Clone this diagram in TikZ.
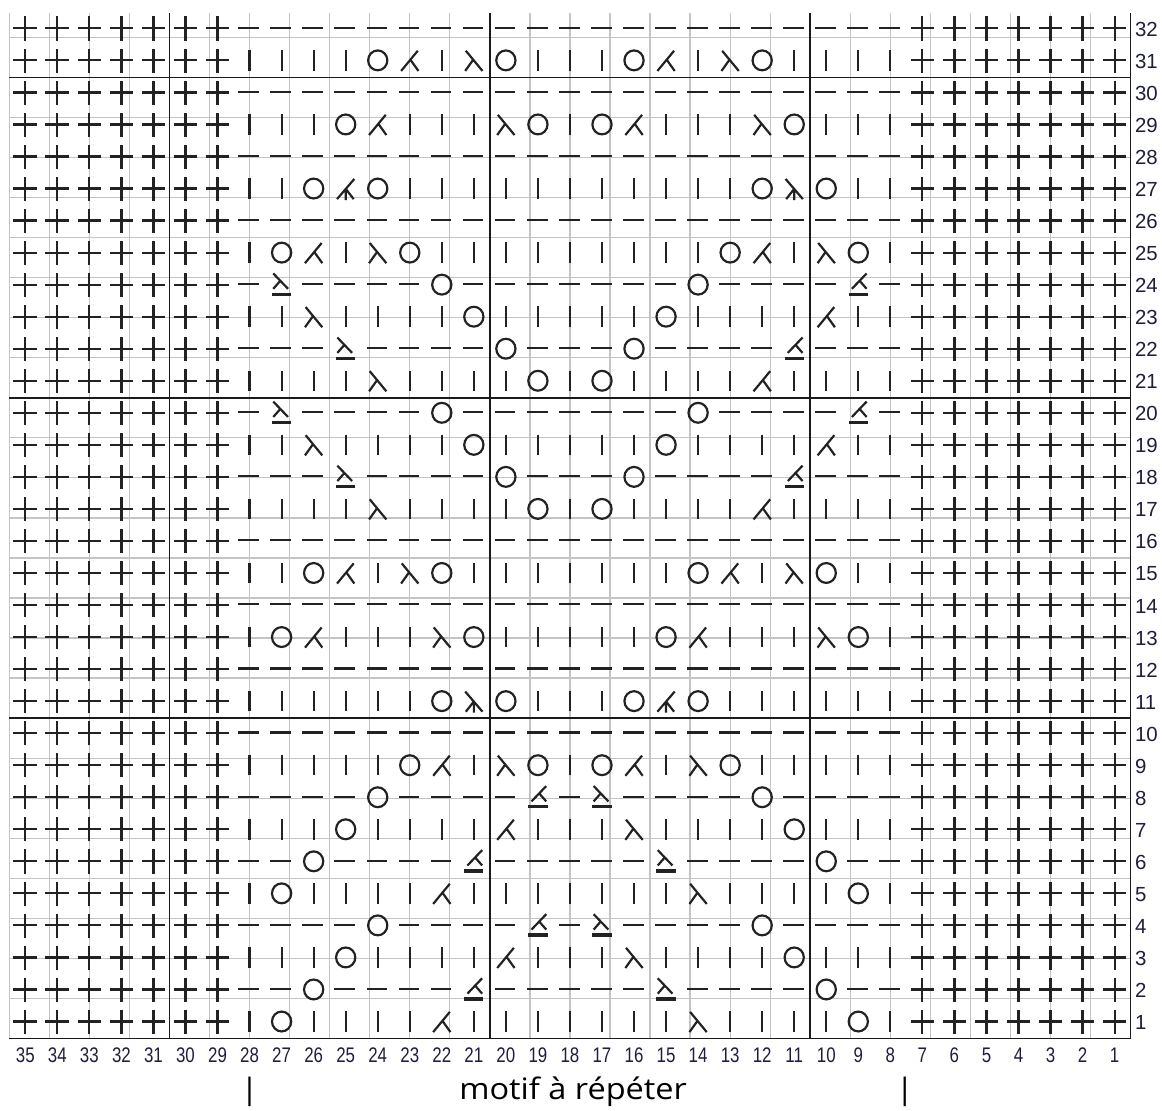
\documentclass[tikz,border=0pt]{standalone}
\usepackage{fontspec}
\setmainfont{Liberation Sans}
\newfontfamily\numfont[FakeStretch=0.8]{Liberation Sans}
\newfontfamily\motiffont[FakeStretch=1.1]{Open Sans}
\usepackage{tikz}
\definecolor{gridGray}{HTML}{C4C4C4}
\definecolor{gridDark}{HTML}{1A1A1A}
\definecolor{symInk}{HTML}{222222}
\definecolor{numInk}{HTML}{1E1E3C}
\tikzset{
  cellLine/.style={draw=gridGray, line width=0.9pt},
  blockLine/.style={draw=gridDark, line width=1.1pt},
  symLine/.style={draw=symInk, line width=1.55pt},
  rowLab/.style={anchor=west, inner sep=0pt, text=numInk,
                 font=\fontsize{14.5}{14.5}\selectfont},
  colLab/.style={inner sep=0pt, text=numInk,
                 font=\numfont\fontsize{15}{15}\selectfont},
  motif/.style={anchor=base, inner sep=0pt,
                font=\motiffont\fontsize{21}{21}\selectfont},
  stX/.pic={\draw[symLine] (-0.37,0.03) -- (0.37,0.03) (0,-0.35) -- (0,0.4);},
  stK/.pic={\draw[symLine] (0,-0.29) -- (0,0.35);},
  stP/.pic={\draw[symLine] (-0.35,0.05) -- (0.3,0.05);},
  stO/.pic={\draw[symLine] (0,0.03) ellipse [x radius=0.3, y radius=0.31];},
  stS/.pic={\draw[symLine] (-0.25,0.33) -- (0.27,-0.3) (-0.02,0.05) -- (-0.27,-0.3);},
  stR/.pic={\draw[symLine] (0.25,0.33) -- (-0.27,-0.3) (0.02,0.05) -- (0.27,-0.3);},
  stU/.pic={\draw[symLine] (-0.27,0.33) -- (0.27,-0.3) (0,0.02) -- (-0.25,-0.3)
                           (0,0.02) -- (0,-0.33);},
  stT/.pic={\draw[symLine] (0.27,0.33) -- (-0.27,-0.3) (0,0.02) -- (0.25,-0.3)
                           (0,0.02) -- (0,-0.33);},
  stA/.pic={\draw[symLine] (-0.26,0.38) -- (0.2,-0.1) (-0.04,0.15) -- (-0.26,-0.1);
            \draw[symLine, line width=2.3pt] (-0.3,-0.27) -- (0.3,-0.27);},
  stB/.pic={\draw[symLine] (0.26,0.38) -- (-0.2,-0.1) (0.04,0.15) -- (0.26,-0.1);
            \draw[symLine, line width=2.3pt] (-0.3,-0.27) -- (0.3,-0.27);},
}
% columns 28 down to 8
\def\chPurl{P,P,P,P,P,P,P,P,P,P,P,P,P,P,P,P,P,P,P,P,P}
\def\chA{K,K,K,K,O,R,K,S,O,K,K,K,O,R,K,S,O,K,K,K,K}
\def\chB{K,K,K,O,R,K,K,K,S,O,K,O,R,K,K,K,S,O,K,K,K}
\def\chC{K,K,O,T,O,K,K,K,K,K,K,K,K,K,K,K,O,U,O,K,K}
\def\chD{K,O,R,K,S,O,K,K,K,K,K,K,K,K,K,O,R,K,S,O,K}
\def\chE{P,A,P,P,P,P,O,P,P,P,P,P,P,P,O,P,P,P,P,B,P}
\def\chF{K,K,S,K,K,K,K,O,K,K,K,K,K,O,K,K,K,K,R,K,K}
\def\chG{P,P,P,A,P,P,P,P,O,P,P,P,O,P,P,P,P,B,P,P,P}
\def\chH{K,K,K,K,S,K,K,K,K,O,K,O,K,K,K,K,R,K,K,K,K}
\def\chI{K,K,O,R,K,S,O,K,K,K,K,K,K,K,O,R,K,S,O,K,K}
\def\chJ{K,O,R,K,K,K,S,O,K,K,K,K,K,O,R,K,K,K,S,O,K}
\def\chK{K,K,K,K,K,K,O,U,O,K,K,K,O,T,O,K,K,K,K,K,K}
\def\chL{K,K,K,K,K,O,R,K,S,O,K,O,R,K,S,O,K,K,K,K,K}
\def\chM{P,P,P,P,O,P,P,P,P,B,P,A,P,P,P,P,O,P,P,P,P}
\def\chN{K,K,K,O,K,K,K,K,R,K,K,K,S,K,K,K,K,O,K,K,K}
\def\chQ{P,P,O,P,P,P,P,B,P,P,P,P,P,A,P,P,P,P,O,P,P}
\def\chV{K,O,K,K,K,K,R,K,K,K,K,K,K,K,S,K,K,K,K,O,K}
\begin{document}
\begin{tikzpicture}[x=0.8cm, y=0.8cm]
  \useasboundingbox (-0.29,-2.26) rectangle (35.98,32.415);
  \draw[cellLine] (0,0) grid (35,32);
  \foreach \x in {5,15,25} \draw[blockLine] (\x,0) -- (\x,32);
  \foreach \y in {10,20,30} \draw[blockLine] (0,\y) -- (35,\y);
  \draw[blockLine] (0,0) -- (35,0) -- (35,32);
  \foreach \r in {1,...,32}
    \foreach \c in {0,1,2,3,4,5,6,28,29,30,31,32,33,34}
      \pic at (\c+0.5,\r-0.5) {stX};
  \foreach \r/\pat in {32/\chPurl, 31/\chA, 30/\chPurl, 29/\chB, 28/\chPurl,
      27/\chC, 26/\chPurl, 25/\chD, 24/\chE, 23/\chF, 22/\chG, 21/\chH,
      20/\chE, 19/\chF, 18/\chG, 17/\chH, 16/\chPurl, 15/\chI, 14/\chPurl,
      13/\chJ, 12/\chPurl, 11/\chK, 10/\chPurl, 9/\chL, 8/\chM, 7/\chN,
      6/\chQ, 5/\chV, 4/\chM, 3/\chN, 2/\chQ, 1/\chV} {
    \edef\curpat{\pat}
    \foreach \s [count=\i] in \curpat
      \pic at (\i+6.5,\r-0.5) {st\s};
  }
  \foreach \r in {1,...,32}
    \node[rowLab] (row\r) at (35.13,\r-0.5) {\r};
  \foreach \c in {1,...,35}
    \node[colLab] (col\c) at (35.5-\c,-0.52) {\c};
  \node[motif] (motif) at (17.6,-1.895) {motif à répéter};
  \node[motif] (barL) at (7.5,-1.895) {|};
  \node[motif] (barR) at (27.95,-1.895) {|};
\end{tikzpicture}
\end{document}
